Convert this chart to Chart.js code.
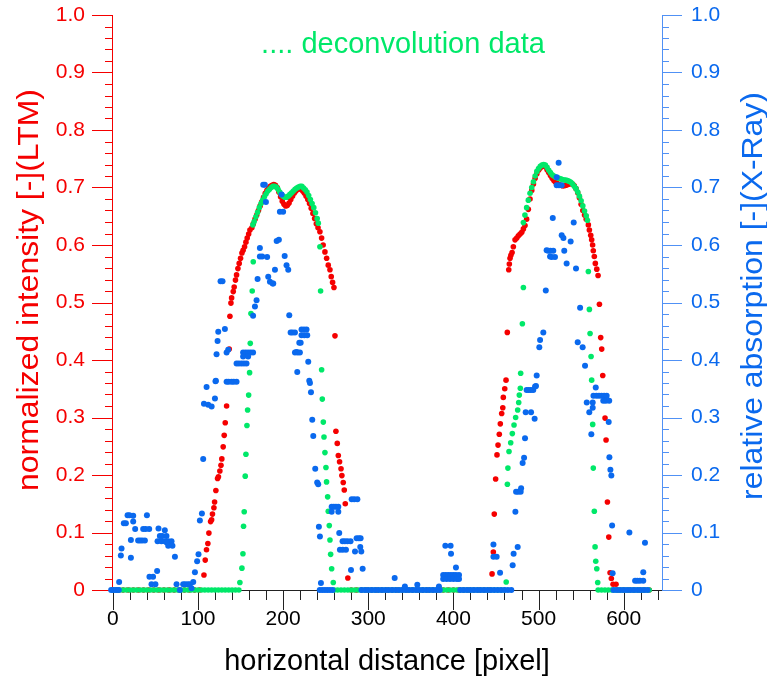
<!DOCTYPE html>
<html>
<head>
<meta charset="utf-8">
<script src="https://cdn.jsdelivr.net/npm/chart.js@4.4.0/dist/chart.umd.min.js"></script>
<style>
  html, body { margin: 0; padding: 0; background: #fff; }
</style>
</head>
<body>
<canvas id="profileChart" width="767" height="680"></canvas>
<script>
// LTM normalized intensity (red, left axis)
const ltmZeroX = [0, 6, 12, 18, 24, 30, 36, 42, 48, 54, 60, 66, 72, 78, 84, 90, 96, 102,
  280, 286, 292, 298, 304, 310, 316, 322, 328, 334, 340, 346, 352, 358, 364, 370, 376, 382,
  388, 394, 400, 406, 412, 418, 424, 430, 436, 442, 594, 600, 606, 612, 618, 624, 630];
const ltmPoints = [
  [107, 0.026], [108.5, 0.052], [110, 0.07], [111.6, 0.081], [112.8, 0.099], [114.8, 0.119], [116, 0.122],
  [117, 0.132], [118.7, 0.143], [119.5, 0.153], [121, 0.173], [123, 0.194], [124, 0.197], [125.7, 0.207],
  [127, 0.217], [128, 0.228], [129.6, 0.249], [130.8, 0.269], [132, 0.291], [133.6, 0.32],
  [136.7, 0.419], [137.5, 0.476], [138.7, 0.499], [139.5, 0.508], [141.4, 0.519], [142.5, 0.527], [144, 0.539],
  [145.3, 0.548], [146.9, 0.559], [148.4, 0.568], [150, 0.577], [151.6, 0.586], [153, 0.591], [154.7, 0.597],
  [156.3, 0.605], [157.8, 0.612], [159.5, 0.619], [161, 0.626], [163.3, 0.63], [165, 0.637], [167, 0.645],
  [169, 0.652], [171, 0.66], [173, 0.668], [175, 0.675], [177, 0.683], [179, 0.69], [181, 0.695], [183, 0.699],
  [185, 0.702], [187, 0.704], [189, 0.705], [191, 0.704], [193, 0.7], [195, 0.692], [197, 0.684], [199, 0.676],
  [201, 0.671], [203, 0.668], [205, 0.669], [207, 0.673], [209, 0.679], [211, 0.685], [213, 0.69], [215, 0.694],
  [217, 0.697], [219, 0.698], [221, 0.697], [223, 0.694], [225, 0.69], [227, 0.685], [229, 0.679], [231, 0.672],
  [233, 0.664], [235, 0.655], [237, 0.646], [239, 0.637], [241, 0.63], [243.2, 0.623], [245.2, 0.612], [247, 0.6],
  [249.1, 0.588], [251.1, 0.577], [253, 0.565], [255, 0.557], [256.5, 0.545], [258.1, 0.535], [259.7, 0.526],
  [260.9, 0.442], [262, 0.276], [263.6, 0.255], [264.8, 0.234], [266.3, 0.223], [268, 0.211], [269, 0.199],
  [270.6, 0.187], [271.8, 0.174], [273, 0.15], [276, 0.021],
  [445.4, 0.028], [446.9, 0.066], [448, 0.132], [449.6, 0.193], [451.2, 0.235], [452.4, 0.252], [453.9, 0.271],
  [455.1, 0.289], [456.7, 0.307], [458, 0.317], [458.6, 0.335], [460.3, 0.35], [461.8, 0.365], [463.3, 0.448],
  [465, 0.557], [465.7, 0.567], [466.5, 0.577], [467.5, 0.582], [468.9, 0.587], [470.4, 0.597], [472.4, 0.609],
  [474.4, 0.612], [476.3, 0.616], [478.3, 0.619], [480.3, 0.622], [482.2, 0.628], [484.1, 0.634], [486, 0.645],
  [488, 0.662], [490, 0.68], [492, 0.695], [494, 0.706], [496, 0.716], [498, 0.724], [500, 0.73], [502, 0.734],
  [504, 0.737], [506, 0.738], [508, 0.736], [510, 0.731], [512, 0.726], [514, 0.721], [516, 0.716], [518, 0.712],
  [520, 0.709], [522, 0.707], [524, 0.705], [526, 0.704], [528, 0.703], [530, 0.703], [532, 0.704], [534, 0.705],
  [536, 0.706], [538, 0.707], [540, 0.706], [542, 0.703], [544, 0.698], [546, 0.691], [548, 0.682], [550, 0.671],
  [552, 0.66], [554, 0.652], [556, 0.645], [558.5, 0.635], [559.7, 0.626], [561.3, 0.617], [562.4, 0.609],
  [563.5, 0.6], [564.3, 0.59], [565.5, 0.58], [566.7, 0.568], [568.4, 0.558], [569.9, 0.547], [571.5, 0.497],
  [573, 0.439], [574.2, 0.419], [575.4, 0.373], [577.3, 0.337], [578.1, 0.299], [579.3, 0.261], [580.9, 0.153],
  [582.5, 0.092], [584, 0.03], [585.5, 0.02], [587.5, 0.01], [591, 0.01]
];

// deconvolution data (green, left axis)
const deconvZeroX = [0, 4, 8, 12, 16, 20, 24, 28, 32, 36, 40, 44, 48, 52, 56, 60, 64, 68, 72, 76, 80, 84, 88,
  92, 96, 100, 104, 108, 112, 116, 120, 124, 128, 132, 136, 140, 144, 148,
  260, 264, 268, 272, 276, 280, 284, 288, 292, 296, 300, 304, 308, 312, 316, 320, 324, 328, 332, 336, 340,
  344, 348, 352, 356, 360, 364, 368, 372, 376, 380, 384, 388, 392, 396, 400, 404, 408, 412, 416, 420, 424,
  428, 432, 436, 440, 444, 448, 452, 456, 460,
  570, 574, 578, 582, 586, 590, 594, 598, 602, 606, 610, 614, 618, 622, 626, 630];
const deconvPoints = [
  [149.2, 0.013], [151.6, 0.038], [152.8, 0.063], [153.5, 0.111], [154.3, 0.136], [155.5, 0.198], [156.3, 0.236],
  [157.5, 0.286], [158.3, 0.313], [159.5, 0.339], [160.6, 0.378], [161.4, 0.429], [162.2, 0.481], [163.7, 0.52],
  [164.9, 0.571],
  [164.5, 0.635], [166, 0.641], [168, 0.649], [170, 0.657], [172, 0.665], [174, 0.672], [176, 0.678], [178, 0.684],
  [180, 0.689], [182, 0.694], [184, 0.697], [186, 0.7], [188, 0.702], [190, 0.702], [192, 0.701], [194, 0.697],
  [196, 0.692], [198, 0.688], [200, 0.685], [202, 0.683], [204, 0.683], [206, 0.685], [208, 0.688], [210, 0.691],
  [212, 0.694], [214, 0.697], [216, 0.699], [218, 0.701], [220, 0.702], [222, 0.702], [224, 0.699], [226, 0.696],
  [228, 0.692], [230, 0.686], [232, 0.679], [234, 0.672], [236, 0.665], [238, 0.656], [240, 0.646], [241.3, 0.638],
  [243.2, 0.597], [244, 0.52], [245.2, 0.383], [246, 0.332], [247.2, 0.292], [248, 0.266], [249.1, 0.239],
  [250.3, 0.213], [251, 0.188], [252.3, 0.162], [253, 0.137], [254.2, 0.112], [255, 0.087], [255.8, 0.062],
  [257, 0.037], [258.9, 0.013],
  [462, 0.014], [463.4, 0.184], [464, 0.212], [465.3, 0.241], [467.3, 0.256], [469.2, 0.272], [471.2, 0.287],
  [473.1, 0.3], [475.5, 0.313], [476.7, 0.326], [477.4, 0.339], [478.6, 0.351], [479, 0.377], [481, 0.463],
  [482.2, 0.526],
  [482.2, 0.639], [484, 0.652], [486, 0.665], [488, 0.678], [490, 0.69], [492, 0.7], [494, 0.71], [496, 0.72],
  [498, 0.728], [500, 0.733], [502, 0.737], [504, 0.739], [506, 0.74], [508, 0.739], [510, 0.735], [512, 0.73],
  [514, 0.726], [516, 0.722], [518, 0.72], [520, 0.718], [522, 0.717], [524, 0.716], [526, 0.715], [528, 0.714],
  [530, 0.713], [532, 0.713], [534, 0.712], [536, 0.711], [538, 0.709], [540, 0.706], [542, 0.702], [544, 0.698],
  [546, 0.692], [548, 0.685], [550, 0.677], [552, 0.668], [554, 0.659], [556, 0.651], [557.4, 0.643],
  [558.5, 0.554], [559.7, 0.488], [560.5, 0.446], [561.7, 0.406], [562.4, 0.365], [563.6, 0.288], [564.3, 0.212],
  [565.5, 0.137], [566.4, 0.075], [567.2, 0.05], [568.4, 0.037], [569.5, 0.013]
];

// X-ray relative absorption (blue, right axis)
const xrayZeroX = [-2, 1, 4, 7, 78.7, 243, 246, 249, 252, 255, 258,
  292, 296, 300, 304, 308, 312, 316, 320, 324, 328, 332, 336, 340, 344, 348, 352, 356, 360, 364, 368, 372,
  376, 380, 384, 408, 412, 416, 420, 424, 428, 432, 436, 440, 444, 448, 452, 456, 460, 464, 468,
  588, 592, 596, 600, 604, 608, 612, 616, 620, 624, 628];
const xrayPoints = [
  [7.4, 0.014], [9.4, 0.06], [10.2, 0.072], [12.9, 0.116], [15.3, 0.116], [17.3, 0.13], [19.5, 0.13], [23.9, 0.129],
  [23.9, 0.119], [21.2, 0.087], [21.2, 0.056], [26.2, 0.106], [29.7, 0.086], [32, 0.086], [34.5, 0.086],
  [37.6, 0.086], [35.6, 0.106], [38.5, 0.106], [42.7, 0.106], [40, 0.13], [43, 0.023], [47.2, 0.023], [45.4, 0.01],
  [50, 0.01], [52, 0.033], [53.6, 0.107], [61, 0.104], [55.2, 0.094], [58, 0.094], [63, 0.094], [52.5, 0.085],
  [57, 0.085], [61, 0.085], [65, 0.085], [68.9, 0.085], [63, 0.083], [65, 0.077], [70, 0.077], [72.9, 0.058],
  [74.8, 0.01], [82.6, 0.01], [85, 0.01], [88, 0.01], [90.5, 0.01], [92.4, 0.003], [94.4, 0.014], [96.4, 0.031],
  [99, 0.05], [100.6, 0.062], [102.2, 0.121], [104.6, 0.133], [106.1, 0.228],
  [107, 0.324], [112, 0.322], [116, 0.319], [119.9, 0.333], [110.1, 0.353], [120.6, 0.363], [121, 0.364],
  [133.6, 0.362], [136, 0.362], [139.4, 0.362], [142, 0.362], [145.3, 0.362], [121.8, 0.41], [133.6, 0.413],
  [135.5, 0.418], [123, 0.433], [123.8, 0.449], [131.6, 0.454], [126.5, 0.537], [128.8, 0.537],
  [145.3, 0.394], [148, 0.394], [151, 0.394], [154, 0.394], [157, 0.394], [153, 0.413], [156, 0.413],
  [158.9, 0.413], [161.8, 0.413], [164.7, 0.413], [153, 0.406], [158.9, 0.406], [164.7, 0.477], [166.9, 0.493],
  [168.8, 0.504], [170, 0.541], [172.7, 0.595], [172.7, 0.58], [175.4, 0.58], [181.2, 0.579], [182.5, 0.545],
  [184.5, 0.536], [188.4, 0.533], [187.7, 0.533], [190.4, 0.557], [192.4, 0.607], [195, 0.609], [176.6, 0.705],
  [178.5, 0.705], [179.8, 0.675], [198.2, 0.688], [196.2, 0.658], [200, 0.658], [201.8, 0.581], [204, 0.565],
  [206, 0.557], [207.2, 0.478], [208.8, 0.448], [211, 0.448], [213.9, 0.448], [215.7, 0.414], [213.9, 0.413],
  [217, 0.413], [219.7, 0.413], [219, 0.43], [220.6, 0.43], [216.6, 0.379], [221.6, 0.453], [224.5, 0.453],
  [227.5, 0.453], [221.6, 0.443], [224.9, 0.443], [228.3, 0.443], [229.5, 0.397], [230.7, 0.364], [231.5, 0.36],
  [232.7, 0.344], [234.2, 0.296], [235.4, 0.268], [237.7, 0.211], [240, 0.187], [241.2, 0.184], [242, 0.11],
  [243.2, 0.093], [244.4, 0.012],
  [257, 0.145], [259.5, 0.145], [262, 0.145], [264.8, 0.145], [257, 0.136], [264.8, 0.136], [280.5, 0.158],
  [283.5, 0.158], [287.2, 0.158], [265.9, 0.099], [269.8, 0.085], [272.5, 0.085], [275.5, 0.085], [279.2, 0.085],
  [266.7, 0.07], [270, 0.07], [273.8, 0.07], [284.4, 0.067], [286.3, 0.09], [289, 0.09], [291, 0.09],
  [290.6, 0.075], [291.8, 0.067], [279.7, 0.035], [293.4, 0.037],
  [331, 0.021], [343, 0.006], [357.6, 0.009], [383, 0.006], [390.5, 0.077], [396.7, 0.077], [397.2, 0.063],
  [403, 0.039], [388, 0.026], [391, 0.026], [394, 0.026], [397, 0.026], [400, 0.026], [403, 0.026], [406.6, 0.026],
  [388, 0.019], [392, 0.019], [396, 0.019], [400, 0.019], [404, 0.019], [406.6, 0.019],
  [447, 0.079], [447, 0.058], [450.8, 0.058], [454.8, 0.03], [469.6, 0.043], [470.7, 0.063], [475.5, 0.075],
  [472.8, 0.136], [473.6, 0.171], [476, 0.171], [479, 0.171], [479.5, 0.177], [481.3, 0.221], [483, 0.23],
  [484.1, 0.264], [484.9, 0.309], [491.2, 0.309], [495.4, 0.298], [486, 0.348], [488.5, 0.348], [491, 0.348],
  [493.8, 0.348], [497, 0.355], [495.9, 0.354], [497.8, 0.373], [500.9, 0.422], [501.8, 0.435], [505.6, 0.448],
  [508.5, 0.521],
  [509.5, 0.591], [511.4, 0.59], [514, 0.59], [517.3, 0.59], [513.5, 0.58], [515.4, 0.579], [519.3, 0.579],
  [516.7, 0.647], [521.3, 0.718], [521.3, 0.704], [524, 0.704], [527.2, 0.704], [523.6, 0.743], [527.2, 0.617],
  [529.2, 0.612], [530.2, 0.59], [533, 0.568], [537.7, 0.606], [541.3, 0.639], [544, 0.559], [546, 0.431],
  [548.8, 0.491], [551.8, 0.422], [554.6, 0.39],
  [556.6, 0.326], [559.6, 0.309], [562, 0.271], [563.6, 0.326], [563.6, 0.317], [564.5, 0.338], [567.2, 0.352],
  [568, 0.338], [571, 0.338], [574, 0.338], [577, 0.338], [580, 0.338], [576, 0.329], [579, 0.329], [583, 0.329],
  [582.4, 0.292], [583.2, 0.231], [584.4, 0.209], [585.5, 0.199], [586.4, 0.112], [587, 0.029], [606.7, 0.1],
  [613.4, 0.016], [616, 0.016], [619, 0.016], [623, 0.016], [623, 0.031], [625, 0.082]
];

const xTickStep = 100;
const yTickStep = 0.1;

const redColor = "rgb(245, 0, 0)";
const greenColor = "rgb(0, 232, 105)";
const blueColor = "rgb(10, 105, 238)";
const blueAxisColor = "rgb(80, 145, 245)";
const fontFamily = '"Liberation Sans", Arial, Helvetica, sans-serif';

function toXY(zeroX, points) {
    const out = zeroX.map(function (x) { return { x: x, y: 0 }; });
    points.forEach(function (p) { out.push({ x: p[0], y: p[1] }); });
    return out;
}

// rotated title, stretched a little along the text like the original
function drawVerticalTitle(ctx, text, cx, cy, color) {
    ctx.save();
    ctx.translate(cx, cy);
    ctx.rotate(-Math.PI / 2);
    ctx.scale(1.1, 1);
    ctx.fillStyle = color;
    ctx.fillText(text, 0, 0);
    ctx.restore();
}

// minor / major tick marks and free text (titles, legend)
const decorations = {
    id: "decorations",
    beforeDatasetsDraw(chart) {
        const ctx = chart.ctx;
        const area = chart.chartArea;
        const sx = chart.scales.x, sy = chart.scales.y;
        ctx.save();
        ctx.lineWidth = 1;
        for (let i = 0; i <= 50; i++) {
            const major = i % 5 === 0;
            const py = Math.round(sy.getPixelForValue(i * 0.02)) + 0.5;
            ctx.strokeStyle = redColor;
            ctx.beginPath();
            ctx.moveTo(area.left - (major ? 20 : 7), py);
            ctx.lineTo(area.left, py);
            ctx.stroke();
            ctx.strokeStyle = blueAxisColor;
            ctx.beginPath();
            ctx.moveTo(area.right, py);
            ctx.lineTo(area.right + (major ? 20 : 7), py);
            ctx.stroke();
        }
        ctx.strokeStyle = "#222";
        for (let v = 0; v <= 640; v += 20) {
            const major = v % 100 === 0;
            const px = Math.round(sx.getPixelForValue(v)) + 0.5;
            ctx.beginPath();
            ctx.moveTo(px, area.bottom);
            ctx.lineTo(px, area.bottom + (major ? 20 : 10));
            ctx.stroke();
        }
        ctx.restore();
    },
    afterDraw(chart) {
        const ctx = chart.ctx;
        ctx.save();
        ctx.font = "29px " + fontFamily;
        ctx.textAlign = "center";
        ctx.textBaseline = "middle";

        ctx.fillStyle = "#000";
        ctx.fillText("horizontal distance [pixel]", 387, 662);

        drawVerticalTitle(ctx, "normalized intensity [-](LTM)", 30, 290, redColor);
        drawVerticalTitle(ctx, "relative absorption [-](X-Ray)", 754, 296, blueColor);

        ctx.fillStyle = greenColor;
        ctx.fillText(".... deconvolution data", 403, 45);
        ctx.restore();
    }
};

const yLabel = function (value) {
    return value === 0 ? "0" : value.toFixed(1);
};

// keep the plot box fixed: 112..662 horizontally, 15..590 vertically
function fixWidth(w) {
    return function (scale) {
        scale.width = w;
        scale.paddingTop = 0;
        scale.paddingBottom = 0;
    };
}

const profileChart = new Chart(document.getElementById("profileChart"), {
    type: "scatter",
    data: {
        datasets: [
            {
                label: "X-Ray",
                data: toXY(xrayZeroX, xrayPoints),
                yAxisID: "y2",
                backgroundColor: blueColor,
                pointRadius: 3,
                pointBorderWidth: 0,
                pointHoverRadius: 3,
                clip: false,
                order: 0
            },
            {
                label: "deconvolution data",
                data: toXY(deconvZeroX, deconvPoints),
                yAxisID: "y",
                backgroundColor: greenColor,
                pointRadius: 2.8,
                pointBorderWidth: 0,
                pointHoverRadius: 2.8,
                clip: false,
                order: 1
            },
            {
                label: "LTM",
                data: toXY(ltmZeroX, ltmPoints),
                yAxisID: "y",
                backgroundColor: redColor,
                pointRadius: 2.8,
                pointBorderWidth: 0,
                pointHoverRadius: 2.8,
                clip: false,
                order: 2
            }
        ]
    },
    options: {
        responsive: false,
        animation: false,
        layout: { padding: { top: 15, left: 0, right: 0, bottom: 0 } },
        plugins: {
            legend: { display: false },
            tooltip: { enabled: false }
        },
        scales: {
            x: {
                type: "linear",
                position: "bottom",
                min: -1,
                max: 645,
                afterFit: function (scale) {
                    scale.height = 90;
                    scale.paddingLeft = 0;
                    scale.paddingRight = 0;
                },
                grid: { display: false, drawTicks: false },
                border: { display: true, color: "#222", width: 1 },
                ticks: {
                    stepSize: xTickStep,
                    includeBounds: false,
                    padding: 17,
                    color: "#000",
                    font: { family: fontFamily, size: 21 },
                    maxRotation: 0,
                    callback: function (v) { return String(v); }
                }
            },
            y: {
                type: "linear",
                position: "left",
                min: 0,
                max: 1,
                afterFit: fixWidth(112),
                grid: { display: false, drawTicks: false },
                border: { display: true, color: redColor, width: 1 },
                ticks: {
                    stepSize: yTickStep,
                    includeBounds: false,
                    padding: 27,
                    color: redColor,
                    font: { family: fontFamily, size: 21 },
                    callback: yLabel
                }
            },
            y2: {
                type: "linear",
                position: "right",
                min: 0,
                max: 1,
                afterFit: fixWidth(105),
                grid: { display: false, drawTicks: false },
                border: { display: true, color: blueAxisColor, width: 1 },
                ticks: {
                    stepSize: yTickStep,
                    includeBounds: false,
                    padding: 29,
                    color: blueColor,
                    font: { family: fontFamily, size: 21 },
                    callback: yLabel
                }
            }
        }
    },
    plugins: [decorations]
});
</script>
</body>
</html>
